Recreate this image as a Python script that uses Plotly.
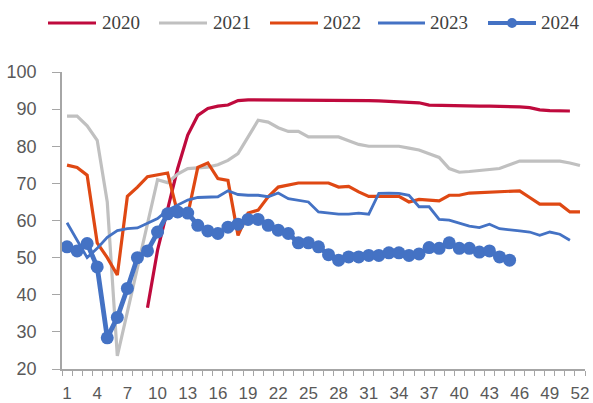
import plotly.graph_objects as go

# Week numbers on the category axis
weeks = list(range(1, 53))
tick_weeks = list(range(1, 53, 3))

# Weekly index values per year (None = no data for that week)
y2020 = [None] * 8 + [
    36.5, 52, 63, 74, 83, 88.3, 90.2, 90.8, 91.1, 92.3,
    92.5, 92.5, 92.5, 92.5, 92.5, 92.5, 92.5, 92.5, 92.5, 92.4,
    92.3, 92.3, 92.3, 92.2, 92.1, 92.0, 92.0, 91.7, 91.1, 91.0,
    90.9, 90.8, 90.8, 90.8, 90.8, 90.8, 90.8, 90.6, 90.4, 89.8,
    89.6, 89.6, 89.5,
]
y2021 = [
    88.1, 88.1, 85.5, 81.6, 65, 23.5, 35.4, 47.3, 59.1, 71,
    70.2, 72.5, 74, 74.2, 74.4, 75, 76.2, 78, 82.5, 87,
    86.5, 85, 84, 84, 82.5, 82.5, 82.5, 82.5, 81.5, 80.5,
    80, 80, 80, 80, 79.5, 79, 78, 77, 74, 73,
    73.2, 73.4, 73.6, 74, 75, 76, 76, 76, 76, 76,
    75.5, 74.8,
]
y2022 = [
    74.9, 74.3, 72.2, 54, 50, 45.3, 66.5, 69, 71.8, 72.2,
    72.8, 62, 61.5, 74.3, 75.5, 71.3, 70.8, 56, 62, 62.8,
    66.4, 69, 69.5, 70.1, 70.1, 70.1, 70.1, 69, 69.2, 67.7,
    66.5, 66.5, 66.5, 66.5, 65, 65.7, 65.5, 65.3, 66.8, 66.8,
    67.4, 67.5, 67.6, 67.7, 67.9, 68, 66.2, 64.4, 64.4, 64.4,
    62.3, 62.3,
]
y2023 = [
    59.4, 54.5, 50, 52.5, 55.5, 57.3, 57.8, 58, 59.2, 60.5,
    62.8, 64.1, 65.5, 66.2, 66.4, 66.4, 68, 67, 66.8, 66.8,
    66.4, 67.4, 65.9, 65.5, 65, 62.3, 62, 61.7, 61.7, 62,
    61.7, 67.3, 67.4, 67.3, 66.8, 63.7, 63.7, 60.3, 60.1, 59.2,
    58.5, 58.1, 59, 57.8, 57.4, 57.2, 56.9, 56, 56.9, 56.3,
    54.7,
]
y2024 = [
    52.9, 51.8, 53.8, 47.5, 28.4, 33.9, 41.7, 50, 51.8, 56.9,
    61.8, 62.3, 62, 58.7, 57.2, 56.5, 58.2, 59, 60.3, 60.3,
    58.7, 57.4, 56.5, 54, 54, 52.9, 50.8, 49.3, 50.2, 50.2,
    50.6, 50.6, 51.3, 51.3, 50.6, 51.0, 52.7, 52.5, 54, 52.5,
    52.5, 51.5, 51.8, 50.2, 49.3,
]

y_ticks = list(range(20, 101, 10))

series = [
    ("2020", y2020, "#BF0A3D", 3.2, False),
    ("2021", y2021, "#C0C0C0", 3.2, False),
    ("2022", y2022, "#DF4813", 3.2, False),
    ("2023", y2023, "#4472C4", 2.8, False),
    ("2024", y2024, "#4472C4", 4.8, True),
]

W, H = 593, 403
M_L, M_R, M_T, M_B = 62, 8, 72, 34
PW, PH = W - M_L - M_R, H - M_T - M_B


def px_x(px):
    return (px - M_L) / PW


def px_y(py):
    return (H - M_B - py) / PH


fig = go.Figure()
for name, vals, color, width, markers in series:
    fig.add_trace(go.Scatter(
        x=weeks[:len(vals)], y=vals, name=name,
        mode="lines+markers" if markers else "lines",
        line=dict(color=color, width=width),
        marker=dict(size=13, color=color) if markers else None,
        connectgaps=False, showlegend=False,
    ))

# Legend row across the top: sample line + year label for each series
legend_slots = [(48, 96, 100), (159, 207, 211), (270, 318, 321),
                (378, 425, 428), (488, 536, 539)]
shapes, annotations = [], []
legend_y = 23
for (name, _, color, width, markers), (x0, x1, tx) in zip(series, legend_slots):
    shapes.append(dict(type="line", xref="paper", yref="paper",
                       x0=px_x(x0), x1=px_x(x1), y0=px_y(legend_y), y1=px_y(legend_y),
                       line=dict(color=color, width=min(width, 4))))
    if markers:
        cx, r = (x0 + x1) / 2, 5
        shapes.append(dict(type="circle", xref="paper", yref="paper",
                           x0=px_x(cx - r), x1=px_x(cx + r),
                           y0=px_y(legend_y + r), y1=px_y(legend_y - r),
                           fillcolor=color, line=dict(color=color, width=0)))
    annotations.append(dict(text=name, xref="paper", yref="paper",
                            x=px_x(tx), y=px_y(legend_y), xanchor="left", yanchor="middle",
                            showarrow=False,
                            font=dict(family="Liberation Serif", size=19, color="#404040")))

axis_color = "#A6A6A6"
tick_font = dict(family="Liberation Sans", size=18, color="#595959")

fig.update_layout(
    width=W, height=H,
    margin=dict(l=M_L, r=M_R, t=M_T, b=M_B, pad=0, autoexpand=False),
    paper_bgcolor="white", plot_bgcolor="white",
    shapes=shapes, annotations=annotations,
    xaxis=dict(
        range=[0.5, 52.5], tickmode="array", tickvals=tick_weeks,
        ticktext=[str(w) for w in tick_weeks],
        ticks="", showgrid=False, zeroline=False, automargin=False,
        showline=True, linecolor=axis_color, linewidth=1.5,
        tickfont=dict(family="Liberation Sans", size=17, color="#595959"),
        ticklabelstandoff=8,
        minor=dict(ticks="outside", tick0=0.5, dtick=1, ticklen=5,
                   tickcolor=axis_color, tickwidth=1.2, showgrid=False),
    ),
    yaxis=dict(
        range=[20, 100], tickmode="array", tickvals=y_ticks,
        ticks="outside", ticklen=8, tickcolor=axis_color, tickwidth=1.2,
        showgrid=False, zeroline=False, automargin=False,
        showline=True, linecolor=axis_color, linewidth=1.5,
        tickfont=tick_font, ticklabelstandoff=12,
    ),
)

fig.write_html("out.html")
